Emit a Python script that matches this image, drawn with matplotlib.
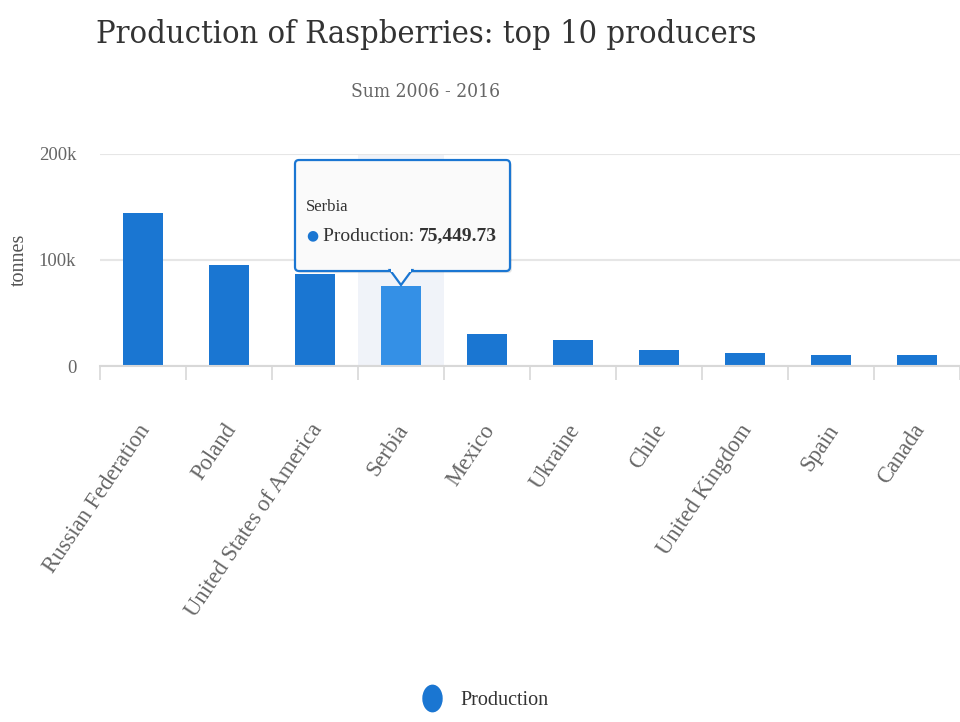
import numpy as np
import matplotlib
matplotlib.use("Agg")
import matplotlib.pyplot as plt
from matplotlib.patches import FancyBboxPatch, Polygon, Rectangle
from matplotlib.lines import Line2D
from matplotlib.markers import MarkerStyle
from matplotlib.transforms import Affine2D, ScaledTranslation
from matplotlib import font_manager as fm

# data (tonnes, sum 2006-2016)
countries = ["Russian Federation", "Poland", "United States of America", "Serbia",
             "Mexico", "Ukraine", "Chile", "United Kingdom", "Spain", "Canada"]
production = [144500, 95500, 87000, 75449.73, 29800, 24700, 14900, 12700, 10200, 10000]
yticks = [0, 100000, 200000]
ytick_labels = ["0", "100k", "200k"]
hover_idx = 3

bar_col = "#1a76d2"
hover_col = "#3490e6"

# condensed serif for the headings if available
title_font = fm.FontProperties(family="DejaVu Serif", stretch="condensed")
serif = "Liberation Serif"

fig = plt.figure(figsize=(9.6, 7.22), dpi=100)
W, H = 960, 722
ax = fig.add_axes([100 / W, 1 - 366 / H, 860 / W, (366 - 154) / H])

x = np.arange(len(countries))
colors = [hover_col if i == hover_idx else bar_col for i in x]

# hover band behind serbia
ax.axvspan(hover_idx - 0.5, hover_idx + 0.5, color="#f0f3f9", zorder=0, lw=0)
ax.bar(x, production, width=0.47, color=colors, zorder=2)

ax.set_xlim(-0.5, len(countries) - 0.5)
ax.set_ylim(0, 200000)
ax.set_yticks(yticks)
ax.set_yticklabels(ytick_labels, fontsize=13.5, color="#666666", family=serif)
ax.yaxis.grid(True, color="#e6e6e6", lw=1.5, zorder=1)
ax.tick_params(axis="y", length=0, pad=17)

# category boundary ticks
ax.set_xticks(np.arange(len(countries) + 1) - 0.5, minor=False)
ax.set_xticklabels([])
ax.tick_params(axis="x", which="major", length=10, width=1.2, color="#d8d8d8")
ax.set_xticks(x, minor=True)
ax.set_xticklabels(countries, minor=True, rotation=56, ha="right", va="top",
                   rotation_mode="anchor", fontsize=16.3, color="#666666", family=serif)
ax.tick_params(axis="x", which="minor", length=0, pad=39)
shift = ScaledTranslation(-4 / 72, 0, fig.dpi_scale_trans)
for lab in ax.get_xticklabels(minor=True):
    lab.set_transform(lab.get_transform() + shift)

for s in ["top", "right", "left"]:
    ax.spines[s].set_visible(False)
ax.spines["bottom"].set_color("#d8d8d8")
ax.spines["bottom"].set_linewidth(1.5)
ax.set_axisbelow(True)

ax.set_ylabel("tonnes", fontsize=14.5, color="#555555", family=serif)
ax.yaxis.set_label_coords(-71 / 860, 0.5)

fig.text(426 / W, 1 - 34 / H, "Production of Raspberries: top 10 producers",
         fontproperties=title_font, fontsize=23.3, color="#333333", ha="center", va="center")
fig.text(426 / W, 1 - 92 / H, "Sum 2006 - 2016",
         fontproperties=title_font, fontsize=13.8, color="#666666", ha="center", va="center")

# legend (circle looks slightly squeezed in the reference)
oval = MarkerStyle("o", transform=Affine2D().scale(0.72, 1.0))
leg = fig.legend(handles=[Line2D([], [], marker=oval, ls="", color=bar_col, markersize=19)],
                 labels=["Production"], loc="center", bbox_to_anchor=(480 / W, 22 / H),
                 frameon=False, prop={"family": serif, "size": 14.5}, handletextpad=0.4)
for t in leg.get_texts():
    t.set_color("#333333")

# tooltip anchored on the hovered bar
fig.canvas.draw()
tx, ty = ax.transData.transform((hover_idx, production[hover_idx]))
box = FancyBboxPatch((tx - 106, ty + 15), 215, 111, boxstyle="round,pad=0,rounding_size=4",
                     transform=None, facecolor="#fafafa", edgecolor=bar_col, lw=1.6, zorder=10)
fig.patches.append(box)
shadow = FancyBboxPatch((tx - 104, ty + 13), 215, 111, boxstyle="round,pad=0,rounding_size=4",
                        transform=None, facecolor="#00000018", edgecolor="none", zorder=9)
fig.patches.append(shadow)
ptr = Polygon([(tx - 11, ty + 16), (tx, ty + 1), (tx + 11, ty + 16)], closed=True,
              transform=None, facecolor="#fafafa", edgecolor=bar_col, lw=1.6, zorder=11)
fig.patches.append(ptr)
cover = Rectangle((tx - 10, ty + 14), 20, 4, transform=None, facecolor="#fafafa",
                  edgecolor="none", zorder=12)
fig.patches.append(cover)

fig.text((tx - 95) / W, (ty + 79) / H, countries[hover_idx],
         fontsize=12, family=serif, color="#333333", va="center", ha="left", zorder=13)
fig.text((tx - 89) / W, (ty + 51) / H, "\u25cf", fontsize=10, color=bar_col,
         family="DejaVu Sans", va="center", ha="center", zorder=13)
t1 = fig.text((tx - 78) / W, (ty + 50) / H, "Production: ", fontsize=14, family=serif,
              color="#333333", va="center", ha="left", zorder=13)
fig.canvas.draw()
ext = t1.get_window_extent()
fig.text(ext.x1 / W, (ty + 50) / H, f"{production[hover_idx]:,.2f}", fontsize=14,
         family=serif, weight="bold", color="#333333", va="center", ha="left", zorder=13)

fig.savefig("out.png", dpi=100)
